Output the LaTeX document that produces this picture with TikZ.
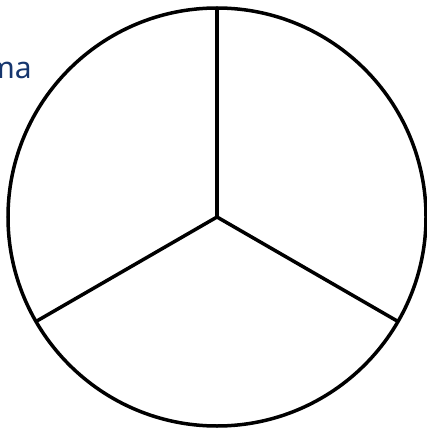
\documentclass[tikz,border=0pt]{standalone}
\usepackage{fontspec}
\setmainfont{Noto Sans}
\usepackage{xcolor}
\usepackage{tikz}
\usetikzlibrary{positioning}

\definecolor{titleblue}{RGB}{22,54,110}

\begin{document}
\begin{tikzpicture}[
    x=1pt, y=-1pt,
    wheel/.style = {
        circle, draw=black, line width=3.5pt,
        minimum size=418pt, inner sep=0pt, outer sep=0pt
    },
    spoke/.style = {draw=black, line width=3.5pt},
    title/.style = {
        font=\fontsize{30}{36}\selectfont, text=titleblue,
        inner sep=0pt, anchor=base east
    }
]
\useasboundingbox (0,0) rectangle (427,430);

%% Circle and title
\node[wheel] (pie) at (217,217) {};
\coordinate (hub) at (217,217);
\node[title] (head) at (32,79) {ma};

%% Spokes
\draw[spoke] (hub) -- (pie.90);
\draw[spoke] (hub) -- (pie.210);
\draw[spoke] (hub) -- (pie.330);

\end{tikzpicture}
\end{document}
